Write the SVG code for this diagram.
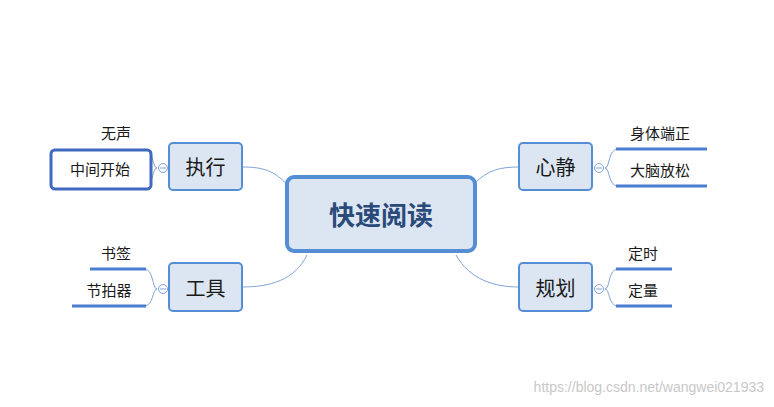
<svg xmlns="http://www.w3.org/2000/svg" width="774" height="407" viewBox="0 0 774 407">
<style>
.t{font-family:"Noto Sans CJK SC","Liberation Sans",sans-serif;fill:#1a1a1a}
.b{fill:#dce6f2;stroke:#558ed5;stroke-width:2}
.c{fill:none;stroke:#7fa3d8;stroke-width:1}
.u{stroke:#4a7fd0;stroke-width:3}
.k{fill:#fff;stroke:#7fa3d8;stroke-width:1}
</style>
<rect width="774" height="407" fill="#fff"/>
<g id="connectors">
<path class="c" d="M289,187 C275,170 262,167 242,167"/>
<path class="c" d="M307,255 C295,280 270,287 242,287"/>
<path class="c" d="M475,183 C488,170 500,167 519,167"/>
<path class="c" d="M456,255 C470,280 495,287 519,287"/>
<path class="c" d="M157,168 C152,168 154,149 144,149 M157,168 C152,168 154,186 144,186"/>
<path class="c" d="M157,289 C152,289 154,269 144,269 M157,289 C152,289 154,306 144,306"/>
<path class="c" d="M605,168 C610,168 608,149 618,149 M605,168 C610,168 608,186 618,186"/>
<path class="c" d="M605,289 C610,289 608,269 618,269 M605,289 C610,289 608,306 618,306"/>
<circle class="k" cx="163" cy="168" r="4.5"/><path class="c" d="M160,168h6"/>
<circle class="k" cx="163" cy="289" r="4.5"/><path class="c" d="M160,289h6"/>
<circle class="k" cx="599" cy="168" r="4.5"/><path class="c" d="M596,168h6"/>
<circle class="k" cx="599" cy="289" r="4.5"/><path class="c" d="M596,289h6"/>
</g>
<g id="center"><rect x="287" y="177" width="188" height="74" rx="7" fill="#dce6f2" stroke="#558ed5" stroke-width="4"/>
<text class="t" x="381" y="225" font-size="26" font-weight="bold" text-anchor="middle" style="fill:#2a4a7a">快速阅读</text></g>
<g id="zhixing"><rect class="b" x="169" y="143" width="73" height="47" rx="4"/><text class="t" x="205.5" y="175" font-size="20" text-anchor="middle">执行</text></g>
<g id="gongju"><rect class="b" x="169" y="263" width="73" height="48" rx="4"/><text class="t" x="205.5" y="296" font-size="20" text-anchor="middle">工具</text></g>
<g id="xinjing"><rect class="b" x="519" y="143" width="73" height="47" rx="4"/><text class="t" x="555.5" y="175" font-size="20" text-anchor="middle">心静</text></g>
<g id="guihua"><rect class="b" x="519" y="263" width="73" height="48" rx="4"/><text class="t" x="555.5" y="296" font-size="20" text-anchor="middle">规划</text></g>
<g id="wusheng"><text class="t" x="116" y="139" font-size="15" text-anchor="middle">无声</text></g>
<g id="zhongjian"><rect x="51" y="150" width="100" height="39" rx="4" fill="#fff" stroke="#4069bf" stroke-width="3"/><text class="t" x="100" y="175" font-size="15" text-anchor="middle">中间开始</text></g>
<g id="shuqian"><text class="t" x="116" y="259" font-size="15" text-anchor="middle">书签</text><line class="u" x1="90" y1="269" x2="146" y2="269"/></g>
<g id="jiepaiqi"><text class="t" x="109" y="296" font-size="15" text-anchor="middle">节拍器</text><line class="u" x1="72" y1="306" x2="146" y2="306"/></g>
<g id="shenti"><text class="t" x="660" y="139" font-size="15" text-anchor="middle">身体端正</text><line class="u" x1="616" y1="149" x2="707" y2="149"/></g>
<g id="danao"><text class="t" x="660" y="176" font-size="15" text-anchor="middle">大脑放松</text><line class="u" x1="616" y1="186" x2="707" y2="186"/></g>
<g id="dingshi"><text class="t" x="643" y="259" font-size="15" text-anchor="middle">定时</text><line class="u" x1="616" y1="269" x2="672" y2="269"/></g>
<g id="dingliang"><text class="t" x="643" y="296" font-size="15" text-anchor="middle">定量</text><line class="u" x1="616" y1="306" x2="672" y2="306"/></g>
<text x="764" y="392" font-family="Liberation Sans,sans-serif" font-size="14" fill="#c8c8c8" text-anchor="end">https://blog.csdn.net/wangwei021933</text>
</svg>
